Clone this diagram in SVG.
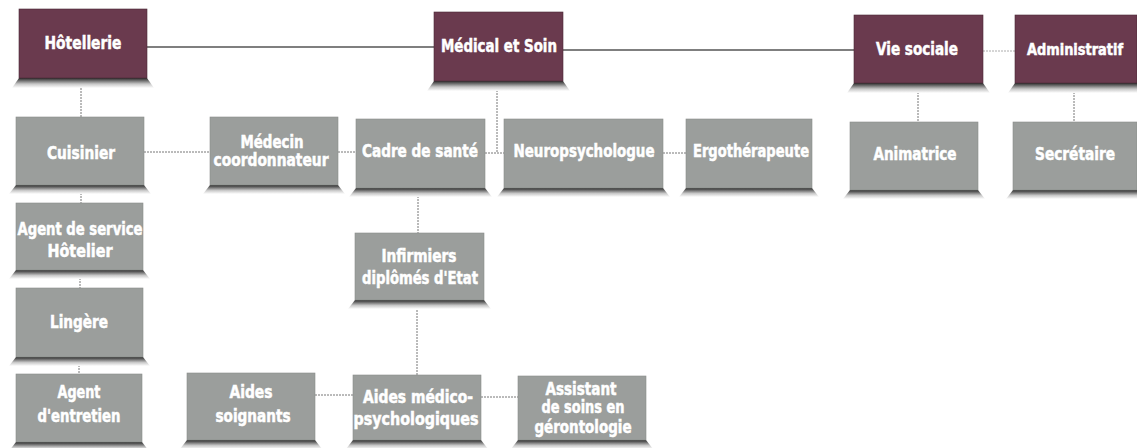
<svg xmlns="http://www.w3.org/2000/svg" width="1137" height="448" viewBox="0 0 1137 448">
<defs>
<linearGradient id="shade" x1="0" y1="0" x2="0" y2="1">
<stop offset="0" stop-color="#2a2a2a"/>
<stop offset="0.25" stop-color="#6a6a6a"/>
<stop offset="0.6" stop-color="#c8c8c8"/>
<stop offset="1" stop-color="#ffffff"/>
</linearGradient>
</defs>
<style>
.head{fill:#6a3a4e;stroke:#4a2a36;stroke-width:0.6}
.job{fill:#9b9e9c;stroke:#8a8c8a;stroke-width:0.6}
.sh{fill:url(#shade)}
text{font-family:"DejaVu Sans Condensed","Liberation Sans",sans-serif;font-weight:bold;fill:#ffffff;text-anchor:middle;stroke:#ffffff;stroke-width:0.5}
.ht{font-size:18px}
.jt{font-size:17px}
.main{fill:none;stroke:#555;stroke-width:1.3}
.dot{fill:none;stroke:#777;stroke-width:1;stroke-dasharray:2 1}
</style>
<rect width="1137" height="448" fill="#ffffff"/>
<g id="connectors">
<path class="main" d="M147,47 H434"/>
<path class="main" d="M563,50 H854"/>
<path class="dot" d="M983,51 H1015" stroke-opacity="0.6"/>
<path class="dot" d="M81,88 V117"/>
<path class="dot" d="M81,193 V203"/>
<path class="dot" d="M80,278 V288"/>
<path class="dot" d="M79,365 V374"/>
<path class="dot" d="M144,152 H210"/>
<path class="dot" d="M338,152 H356"/>
<path class="dot" d="M497,90 V153"/>
<path class="dot" d="M485,153 H504"/>
<path class="dot" d="M663,153 H686"/>
<path class="dot" d="M918,92 V122"/>
<path class="dot" d="M1074,92 V122"/>
<path class="dot" d="M418,196 V233"/>
<path class="dot" d="M417,310 V375"/>
<path class="dot" d="M315,395 H353"/>
<path class="dot" d="M481,397 H518"/>
</g>
<g id="hotellerie">
<path class="sh" d="M19,78 H147 L154,88 H12 Z"/>
<rect class="head" x="19" y="9" width="128" height="69"/>
<text class="ht" x="83" y="49" textLength="77" lengthAdjust="spacingAndGlyphs">Hôtellerie</text>
</g>
<g id="medical">
<path class="sh" d="M434,81 H563 L570,91 H427 Z"/>
<rect class="head" x="434" y="12" width="129" height="69"/>
<text class="ht" x="499" y="52" textLength="116" lengthAdjust="spacingAndGlyphs">Médical et Soin</text>
</g>
<g id="vie-sociale">
<path class="sh" d="M854,83 H983 L990,93 H847 Z"/>
<rect class="head" x="854" y="15" width="129" height="68"/>
<text class="ht" x="917" y="55" textLength="82" lengthAdjust="spacingAndGlyphs">Vie sociale</text>
</g>
<g id="administratif">
<path class="sh" d="M1015,83 H1137 V93 H1008 Z"/>
<rect class="head" x="1015" y="15" width="122" height="68"/>
<text x="1075" y="55" font-size="16" textLength="96" lengthAdjust="spacingAndGlyphs">Administratif</text>
</g>
<g id="cuisinier">
<path class="sh" d="M16,185 H144 L151,194 H9 Z"/>
<rect class="job" x="16" y="117" width="128" height="68"/>
<text class="jt" x="81" y="159" textLength="68" lengthAdjust="spacingAndGlyphs">Cuisinier</text>
</g>
<g id="medecin">
<path class="sh" d="M210,185 H338 L345,194 H203 Z"/>
<rect class="job" x="210" y="117" width="128" height="68"/>
<text class="jt" x="272" y="148" textLength="63" lengthAdjust="spacingAndGlyphs">Médecin</text>
<text class="jt" x="271" y="166" textLength="115" lengthAdjust="spacingAndGlyphs">coordonnateur</text>
</g>
<g id="cadre">
<path class="sh" d="M356,188 H485 L492,197 H349 Z"/>
<rect class="job" x="356" y="119" width="129" height="69"/>
<text class="jt" x="420" y="157" textLength="116" lengthAdjust="spacingAndGlyphs">Cadre de santé</text>
</g>
<g id="neuro">
<path class="sh" d="M504,188 H663 L670,197 H497 Z"/>
<rect class="job" x="504" y="119" width="159" height="69"/>
<text class="jt" x="584" y="157" textLength="141" lengthAdjust="spacingAndGlyphs">Neuropsychologue</text>
</g>
<g id="ergo">
<path class="sh" d="M686,188 H812 L819,197 H679 Z"/>
<rect class="job" x="686" y="119" width="126" height="69"/>
<text class="jt" x="751" y="157" textLength="116" lengthAdjust="spacingAndGlyphs">Ergothérapeute</text>
</g>
<g id="animatrice">
<path class="sh" d="M850,190 H978 L985,199 H843 Z"/>
<rect class="job" x="850" y="122" width="128" height="68"/>
<text class="jt" x="915" y="160" textLength="83" lengthAdjust="spacingAndGlyphs">Animatrice</text>
</g>
<g id="secretaire">
<path class="sh" d="M1013,190 H1137 V199 H1006 Z"/>
<rect class="job" x="1013" y="122" width="124" height="68"/>
<text class="jt" x="1075" y="160" textLength="80" lengthAdjust="spacingAndGlyphs">Secrétaire</text>
</g>
<g id="agent-service">
<path class="sh" d="M16,270 H143 L150,279 H9 Z"/>
<rect class="job" x="16" y="203" width="127" height="67"/>
<text class="jt" x="80" y="235" textLength="125" lengthAdjust="spacingAndGlyphs">Agent de service</text>
<text class="jt" x="80" y="257" textLength="65" lengthAdjust="spacingAndGlyphs">Hôtelier</text>
</g>
<g id="lingere">
<path class="sh" d="M16,357 H143 L150,366 H9 Z"/>
<rect class="job" x="16" y="288" width="127" height="69"/>
<text class="jt" x="79" y="328" textLength="58" lengthAdjust="spacingAndGlyphs">Lingère</text>
</g>
<g id="agent-entretien">
<path class="sh" d="M16,442 H142 L149,451 H9 Z"/>
<rect class="job" x="16" y="374" width="126" height="68"/>
<text class="jt" x="79" y="398" textLength="43" lengthAdjust="spacingAndGlyphs">Agent</text>
<text class="jt" x="79" y="422" textLength="83" lengthAdjust="spacingAndGlyphs">d'entretien</text>
</g>
<g id="aides-soignants">
<path class="sh" d="M187,440 H315 L322,449 H180 Z"/>
<rect class="job" x="187" y="373" width="128" height="67"/>
<text class="jt" x="251" y="398" textLength="43" lengthAdjust="spacingAndGlyphs">Aides</text>
<text class="jt" x="253" y="422" textLength="75" lengthAdjust="spacingAndGlyphs">soignants</text>
</g>
<g id="infirmiers">
<path class="sh" d="M355,300 H484 L491,309 H348 Z"/>
<rect class="job" x="355" y="233" width="129" height="67"/>
<text class="jt" x="419" y="262" textLength="75" lengthAdjust="spacingAndGlyphs">Infirmiers</text>
<text class="jt" x="420" y="284" textLength="116" lengthAdjust="spacingAndGlyphs">diplômés d'Etat</text>
</g>
<g id="amp">
<path class="sh" d="M353,440 H481 L488,449 H346 Z"/>
<rect class="job" x="353" y="375" width="128" height="65"/>
<text class="jt" x="418" y="403" textLength="110" lengthAdjust="spacingAndGlyphs">Aides médico-</text>
<text class="jt" x="416" y="425" textLength="125" lengthAdjust="spacingAndGlyphs">psychologiques</text>
</g>
<g id="assistant">
<path class="sh" d="M518,440 H646 L653,449 H511 Z"/>
<rect class="job" x="518" y="376" width="128" height="64"/>
<text class="jt" x="581" y="395" textLength="71" lengthAdjust="spacingAndGlyphs">Assistant</text>
<text class="jt" x="583" y="413" textLength="83" lengthAdjust="spacingAndGlyphs">de soins en</text>
<text class="jt" x="583" y="433" textLength="97" lengthAdjust="spacingAndGlyphs">gérontologie</text>
</g>
</svg>
